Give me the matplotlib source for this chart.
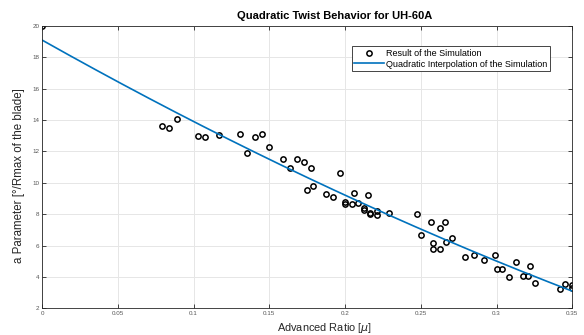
import numpy as np
import matplotlib.pyplot as plt

plt.rcParams['font.family'] = ['Liberation Sans', 'DejaVu Sans']

# advanced ratio mu and simulated a parameter
mu = [0.0, 0.0795, 0.0841, 0.0892, 0.1030, 0.1077, 0.1169, 0.1308, 0.1354, 0.1405,
      0.1451, 0.1497, 0.1590, 0.1636, 0.1682, 0.1729, 0.1775, 0.1964, 0.1748, 0.1790,
      0.1874, 0.1918, 0.1999, 0.1999, 0.2044, 0.2057, 0.2085, 0.2149, 0.2127, 0.2127,
      0.2166, 0.2166, 0.2209, 0.2209, 0.2292, 0.2475, 0.2499, 0.2569, 0.2583, 0.2583,
      0.2627, 0.2627, 0.2662, 0.2668, 0.2708, 0.2792, 0.2849, 0.2919, 0.2990, 0.3001,
      0.3038, 0.3085, 0.3131, 0.3177, 0.3210, 0.3223, 0.3254, 0.3419, 0.3454, 0.3500,
      0.3500]
a_par = [20.0, 13.63, 13.51, 14.08, 13.00, 12.93, 13.06, 13.14, 11.92, 12.93,
         13.12, 12.30, 11.55, 10.96, 11.55, 11.36, 10.92, 10.60, 9.52, 9.82,
         9.31, 9.07, 8.78, 8.63, 8.67, 9.35, 8.69, 9.24, 8.42, 8.29,
         8.08, 8.02, 8.20, 7.97, 8.10, 8.01, 6.65, 7.50, 6.19, 5.79,
         7.14, 5.76, 7.50, 6.23, 6.46, 5.25, 5.42, 5.09, 5.42, 4.51,
         4.51, 4.00, 4.98, 4.04, 4.07, 4.68, 3.60, 3.24, 3.54, 3.45,
         3.32]

# quadratic fit of the simulation
coef = np.polyfit(mu, a_par, 2)
mu_fit = np.linspace(0, 0.35, 200)
a_fit = np.polyval(coef, mu_fit)

fig = plt.figure(figsize=(5.84, 3.35), dpi=100)
ax = fig.add_axes([0.072, 0.08, 0.908, 0.842])

ax.plot(mu, a_par, 'o', mfc='none', mec='black', ms=3.8, mew=1.1,
        label='Result of the Simulation')
ax.plot(mu_fit, a_fit, color=(0, 0.447, 0.741), lw=1.2,
        label='Quadratic Interpolation of the Simulation')

ax.set_xlim(0, 0.35)
ax.set_ylim(2, 20)
ax.set_xticks([0, 0.05, 0.1, 0.15, 0.2, 0.25, 0.3, 0.35])
ax.set_xticklabels(['0', '0.05', '0.1', '0.15', '0.2', '0.25', '0.3', '0.35'])
ax.set_yticks(range(2, 21, 2))
ax.grid(True, color='#e6e6e6', lw=0.7)
ax.set_axisbelow(True)
ax.tick_params(direction='in', length=3, width=0.6, labelsize=4.5, colors='#262626',
               top=True, right=True, pad=2)
for lbl in ax.get_xticklabels() + ax.get_yticklabels():
    lbl.set_color('#555555')
for s in ax.spines.values():
    s.set_color('#262626')
    s.set_linewidth(0.6)

ax.set_title('Quadratic Twist Behavior for UH-60A', fontsize=8, fontweight='bold',
             pad=5, x=0.552)
ax.set_xlabel('Advanced Ratio [$\\mu$]', fontsize=7.9, color='#262626')
ax.xaxis.set_label_coords(0.533, -0.045)
ax.set_ylabel('a Parameter [°/Rmax of the blade]', fontsize=8.3, color='#262626')
ax.yaxis.set_label_coords(-0.032, 0.472)

leg = ax.legend(loc='upper right', bbox_to_anchor=(0.967, 0.944), fontsize=6.5,
                fancybox=False, framealpha=1, edgecolor='#262626',
                handlelength=3.3, handletextpad=0.25, borderpad=0.3, labelspacing=0.15)
leg.get_frame().set_linewidth(0.6)

fig.savefig('out.png', dpi=100)
